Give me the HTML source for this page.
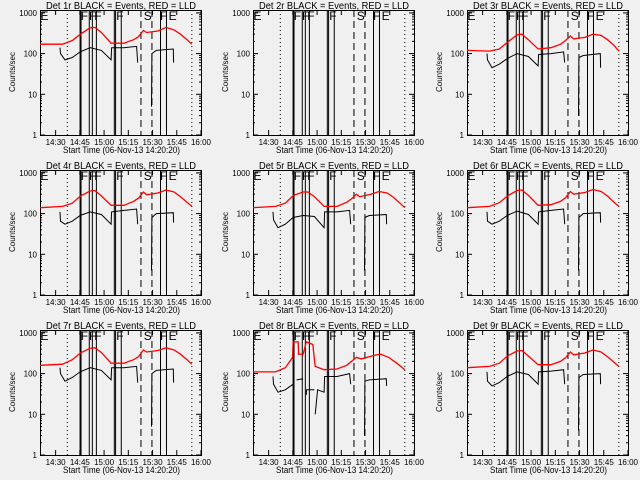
<!DOCTYPE html>
<html><head><meta charset="utf-8">
<style>
body{margin:0;background:#f0f0f0;}
svg{display:block;font-family:"Liberation Sans",sans-serif;}
</style></head>
<body>
<svg id="chart" width="640" height="480" viewBox="0 0 640 480">
<rect width="640" height="480" fill="#f0f0f0"/>
</svg>
<script>
// Shared tick labels and event markers (minutes after 14:20:20)
const xTickLabels = ["14:30","14:45","15:00","15:15","15:30","15:45","16:00"];
const xTickMinutes = [9.67,24.67,39.67,54.67,69.67,84.67,99.67];
const yTickValues = [1,10,100,1000];
const solidLines = [24.8,25.4,30.5,32.4,34.9,46.0,46.8,50.3,74.6,78.3];
const dashedLines = [62.5,69.3];
const dottedLines = [16.9,78.3,94.0];
const markerLabels = ["E","F","F","F","F","S","F","E"];
const markerMinutes = [0.3,25.2,30.3,33.6,47.2,64.2,74.3,79.6];

// Red (LLD) series
const redTime = [0,14,20,25,31,34,38,44,52,58,61,64,66,73,78,83,87,91,94];
const redDet1 = [170,170,210,300,430,440,330,180,180,220,260,370,330,360,440,380,300,220,170];
const redDet3 = [120,115,130,190,290,300,220,130,140,170,210,270,230,250,300,280,220,160,115];
const redDet4 = [140,150,180,270,360,370,270,160,160,200,240,340,290,320,380,340,260,190,150];
const redDet5 = [140,150,180,280,340,340,260,150,150,190,230,300,260,300,350,320,250,180,140];
const redDet6 = [140,150,185,270,370,380,280,160,165,200,245,350,300,330,390,350,270,190,150];
const redDet7 = [160,170,220,320,420,430,330,180,180,220,260,380,340,370,430,380,300,220,170];
const redDet9 = [140,150,180,270,360,370,270,165,165,200,245,340,290,320,380,340,260,190,150];
const redTime8 = [0,14,20,24.5,24.8,28,28.2,31,33,37,38.5,44,52,58,64,67,75,79,84,89,94];
const redDet8 = [110,110,140,250,600,600,300,300,600,520,150,125,130,160,250,230,280,300,250,180,125];

// Black (Events) series
const blackTime = [12.4,12.7,15.5,20,24.8,31,38,44,44.3,52,59.8,60.5,65,69,69.3,72,82.5,82.7];
const blackDet1 = [140,100,70,80,110,140,120,70,140,140,150,60,null,5,100,120,130,60];
const blackDet3 = [100,70,45,55,75,100,85,50,95,100,110,60,null,3,80,90,100,45];
const blackDet4 = [110,65,55,65,90,110,95,55,110,120,130,55,null,4,80,100,105,60];
const blackDet5 = [110,70,45,55,80,90,85,45,110,110,120,55,null,4,80,90,95,55];
const blackDet6 = [110,65,55,65,90,115,95,55,110,120,130,55,null,4,80,100,105,60];
const blackDet7 = [140,100,65,80,110,140,120,70,140,140,150,60,null,5,100,120,130,60];
const blackDet9 = [110,65,50,60,85,110,95,55,110,115,125,55,null,4,80,95,100,55];
const blackTime8 = [12.4,12.7,15.5,20,24.8,25,27,31,31.2,33,33.2,38,38.3,38.5,40,44,44.3,52,59.8,60.5,65,69,69.3,72,82.5,82.7];
const blackDet8 = [85,55,35,40,55,null,70,75,null,30,40,40,null,10,40,35,85,85,100,55,null,3,65,70,75,50];

const panelTitles = ["Det 1r","Det 2r","Det 3r","Det 4r","Det 5r","Det 6r","Det 7r","Det 8r","Det 9r"];
const panelRed = [[redTime,redDet1],null,[redTime,redDet3],[redTime,redDet4],[redTime,redDet5],[redTime,redDet6],[redTime,redDet7],[redTime8,redDet8],[redTime,redDet9]];
const panelBlack = [[blackTime,blackDet1],null,[blackTime,blackDet3],[blackTime,blackDet4],[blackTime,blackDet5],[blackTime,blackDet6],[blackTime,blackDet7],[blackTime8,blackDet8],[blackTime,blackDet9]];

const NS = "http://www.w3.org/2000/svg";
const svg = document.getElementById("chart");
function mk(tag, attrs, parent){
  const e = document.createElementNS(NS, tag);
  for (const k in attrs) e.setAttribute(k, attrs[k]);
  parent.appendChild(e);
  return e;
}

for (let p = 0; p < 9; p++) {
  const col = p % 3, row = Math.floor(p / 3);
  const ox = Math.round(col * 213.33), oy = row * 160;
  const L = ox + 40, R = ox + 201, T = oy + 10, B = oy + 135;
  const decade = 40.7;
  const xs = t => L + t * (R - L) / 99.67;
  const ys = v => B - Math.log10(v) * decade;

  const g = mk("g", {}, svg);
  
  

  const title = mk("text", {x: ox + 46, y: oy + 9, "font-size": 10, textLength: 150, lengthAdjust: "spacingAndGlyphs", fill: "#000"}, g);
  title.textContent = panelTitles[p] + " BLACK = Events, RED = LLD";
  
  

  const frame = mk("rect", {x: L + 0.5, y: T + 0.5, width: R - L, height: B - T, fill: "none", stroke: "#000", "stroke-width": 1}, g);
  
  

  for (let d = 0; d < 4; d++) {
    const v = yTickValues[d];
    const y = ys(v);
    mk("line", {x1: L, x2: L + 5, y1: y, y2: y, stroke: "#000"}, g);
    mk("line", {x1: R - 5, x2: R, y1: y, y2: y, stroke: "#000"}, g);
    const lb = mk("text", {x: L - 3, y: y + 3, "font-size": 8, "text-anchor": "end", fill: "#000"}, g);
    lb.textContent = String(v);
    
    
    if (d < 3) for (let m = 2; m < 10; m++) {
      const ym = ys(v * m);
      mk("line", {x1: L, x2: L + 2, y1: ym, y2: ym, stroke: "#000"}, g);
      mk("line", {x1: R - 2, x2: R, y1: ym, y2: ym, stroke: "#000"}, g);
    }
  }
  const yl = mk("text", {x: 0, y: 0, "font-size": 8, "text-anchor": "middle", fill: "#000", transform: `translate(${ox + 15},${oy + 72}) rotate(-90)`}, g);
  yl.textContent = "Counts/sec";
  
  

  for (let i = 0; i < xTickLabels.length; i++) {
    const x = xs(xTickMinutes[i]);
    mk("line", {x1: x, x2: x, y1: B, y2: B - 5, stroke: "#000"}, g);
    mk("line", {x1: x, x2: x, y1: T, y2: T + 5, stroke: "#000"}, g);
    const lb = mk("text", {x: x, y: B + 10, "font-size": 8, "text-anchor": "middle", fill: "#000"}, g);
    lb.textContent = xTickLabels[i];
    
    
  }
  const xt = mk("text", {x: ox + 63, y: oy + 153, "font-size": 9, textLength: 117, lengthAdjust: "spacingAndGlyphs", fill: "#000"}, g);
  xt.textContent = "Start Time (06-Nov-13 14:20:20)";
  
  

  solidLines.forEach(t => { const l = mk("line", {x1: xs(t), x2: xs(t), y1: T, y2: B, stroke: "#000", "stroke-width": 1}, g);
      });
  dashedLines.forEach(t => { const l = mk("line", {x1: xs(t), x2: xs(t), y1: T, y2: B, stroke: "#000", "stroke-dasharray": "7,4"}, g);
      });
  dottedLines.forEach(t => { const l = mk("line", {x1: xs(t), x2: xs(t), y1: T, y2: B, stroke: "#000", "stroke-dasharray": "1,3"}, g);
      });
  markerLabels.forEach((s, i) => { const tx = mk("text", {x: xs(markerMinutes[i]), y: T + 10, "font-size": 12, fill: "#000"}, g);
    tx.textContent = s;   });

  function series(pair, color, name) {
    if (!pair) return;
    const [tt, vv] = pair;
    let d = "", pen = false;
    for (let i = 0; i < tt.length; i++) {
      if (vv[i] == null) { pen = false; continue; }
      d += (pen ? "L" : "M") + xs(tt[i]).toFixed(1) + " " + ys(vv[i]).toFixed(1);
      pen = true;
    }
    const path = mk("path", {d: d, fill: "none", stroke: color, "stroke-width": color === "#ff0000" ? 1.3 : 1}, g);
    
    
  }
  series(panelRed[p], "#ff0000", "lld-series");
  series(panelBlack[p], "#000", "events-series");
}
</script>
</body></html>
